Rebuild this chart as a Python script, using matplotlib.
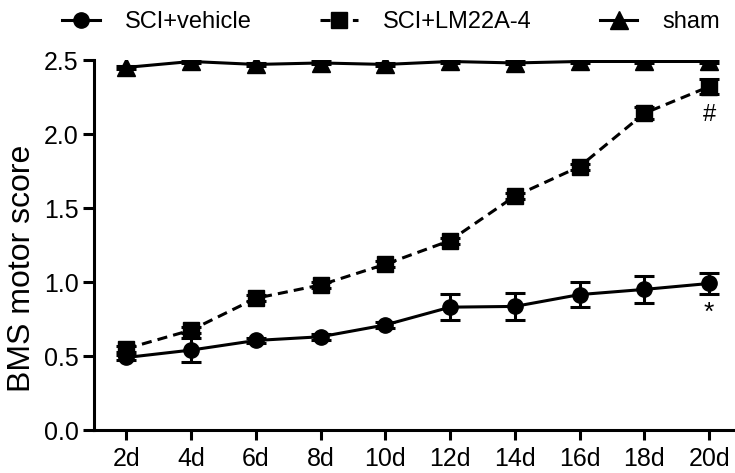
import matplotlib
matplotlib.use("Agg")
import matplotlib.pyplot as plt
import numpy as np

plt.rcParams['font.family'] = ['Liberation Sans', 'DejaVu Sans']

days = ["2d", "4d", "6d", "8d", "10d", "12d", "14d", "16d", "18d", "20d"]
vehicle = [0.49, 0.54, 0.605, 0.63, 0.71, 0.83, 0.835, 0.915, 0.95, 0.99]
vehicle_err = [0.02, 0.08, 0.02, 0.02, 0.02, 0.09, 0.09, 0.085, 0.09, 0.068]
lm22 = [0.55, 0.675, 0.89, 0.98, 1.12, 1.28, 1.58, 1.78, 2.14, 2.32]
lm22_err = [0.02, 0.02, 0.02, 0.02, 0.02, 0.02, 0.02, 0.02, 0.04, 0.05]
sham = [2.45, 2.49, 2.47, 2.48, 2.47, 2.49, 2.48, 2.49, 2.49, 2.49]
sham_err = [0.01] * 10

fig = plt.figure(figsize=(7.35, 4.73), dpi=100)
L, B, T = 94 / 735, 1 - 430 / 473, 1 - 60 / 473
ax = fig.add_axes([L, B, 1 - L, T - B])
x = np.arange(len(days))

common = dict(color='black', lw=2.2, capsize=7, capthick=2.2, elinewidth=2.2)
c1 = ax.errorbar(x, vehicle, yerr=vehicle_err, marker='o', ms=11, ls='-', **common)
c2 = ax.errorbar(x, lm22, yerr=lm22_err, marker='s', ms=11, ls=(0, (3.3, 2)), **common)
c3 = ax.errorbar(x, sham, yerr=sham_err, marker='^', ms=13, ls='-', **common)

ax.text(x[-1], 2.13, '#', ha='center', va='center', fontsize=17)
ax.text(x[-1], 0.79, '*', ha='center', va='center', fontsize=19)

ax.set_xlim(-0.5, 9.4)
ax.set_ylim(0, 2.5)
ax.set_xticks(x)
ax.set_xticklabels(days, fontsize=18)
ax.set_yticks([0, 0.5, 1.0, 1.5, 2.0, 2.5])
ax.set_yticklabels(['0.0', '0.5', '1.0', '1.5', '2.0', '2.5'], fontsize=18)
fig.text(22 / 735, 1 - 268 / 473, 'BMS motor score', rotation=90,
         ha='center', va='center', fontsize=23)
for s in ['top', 'right']:
    ax.spines[s].set_visible(False)
for s in ['left', 'bottom']:
    ax.spines[s].set_linewidth(2.2)
ax.tick_params(axis='y', width=2.2, length=8, pad=3)
ax.tick_params(axis='x', width=2.2, length=7, pad=5)

fig.legend([c1[0], c2[0], c3[0]], ['SCI+vehicle', 'SCI+LM22A-4', 'sham'],
           loc='center left', bbox_to_anchor=(62 / 735, 1 - 22 / 473), ncol=3,
           frameon=False, fontsize=17, handlelength=1.6, handletextpad=1.05,
           columnspacing=2.9, borderpad=0, borderaxespad=0)
fig.savefig('out.png', dpi=100)
